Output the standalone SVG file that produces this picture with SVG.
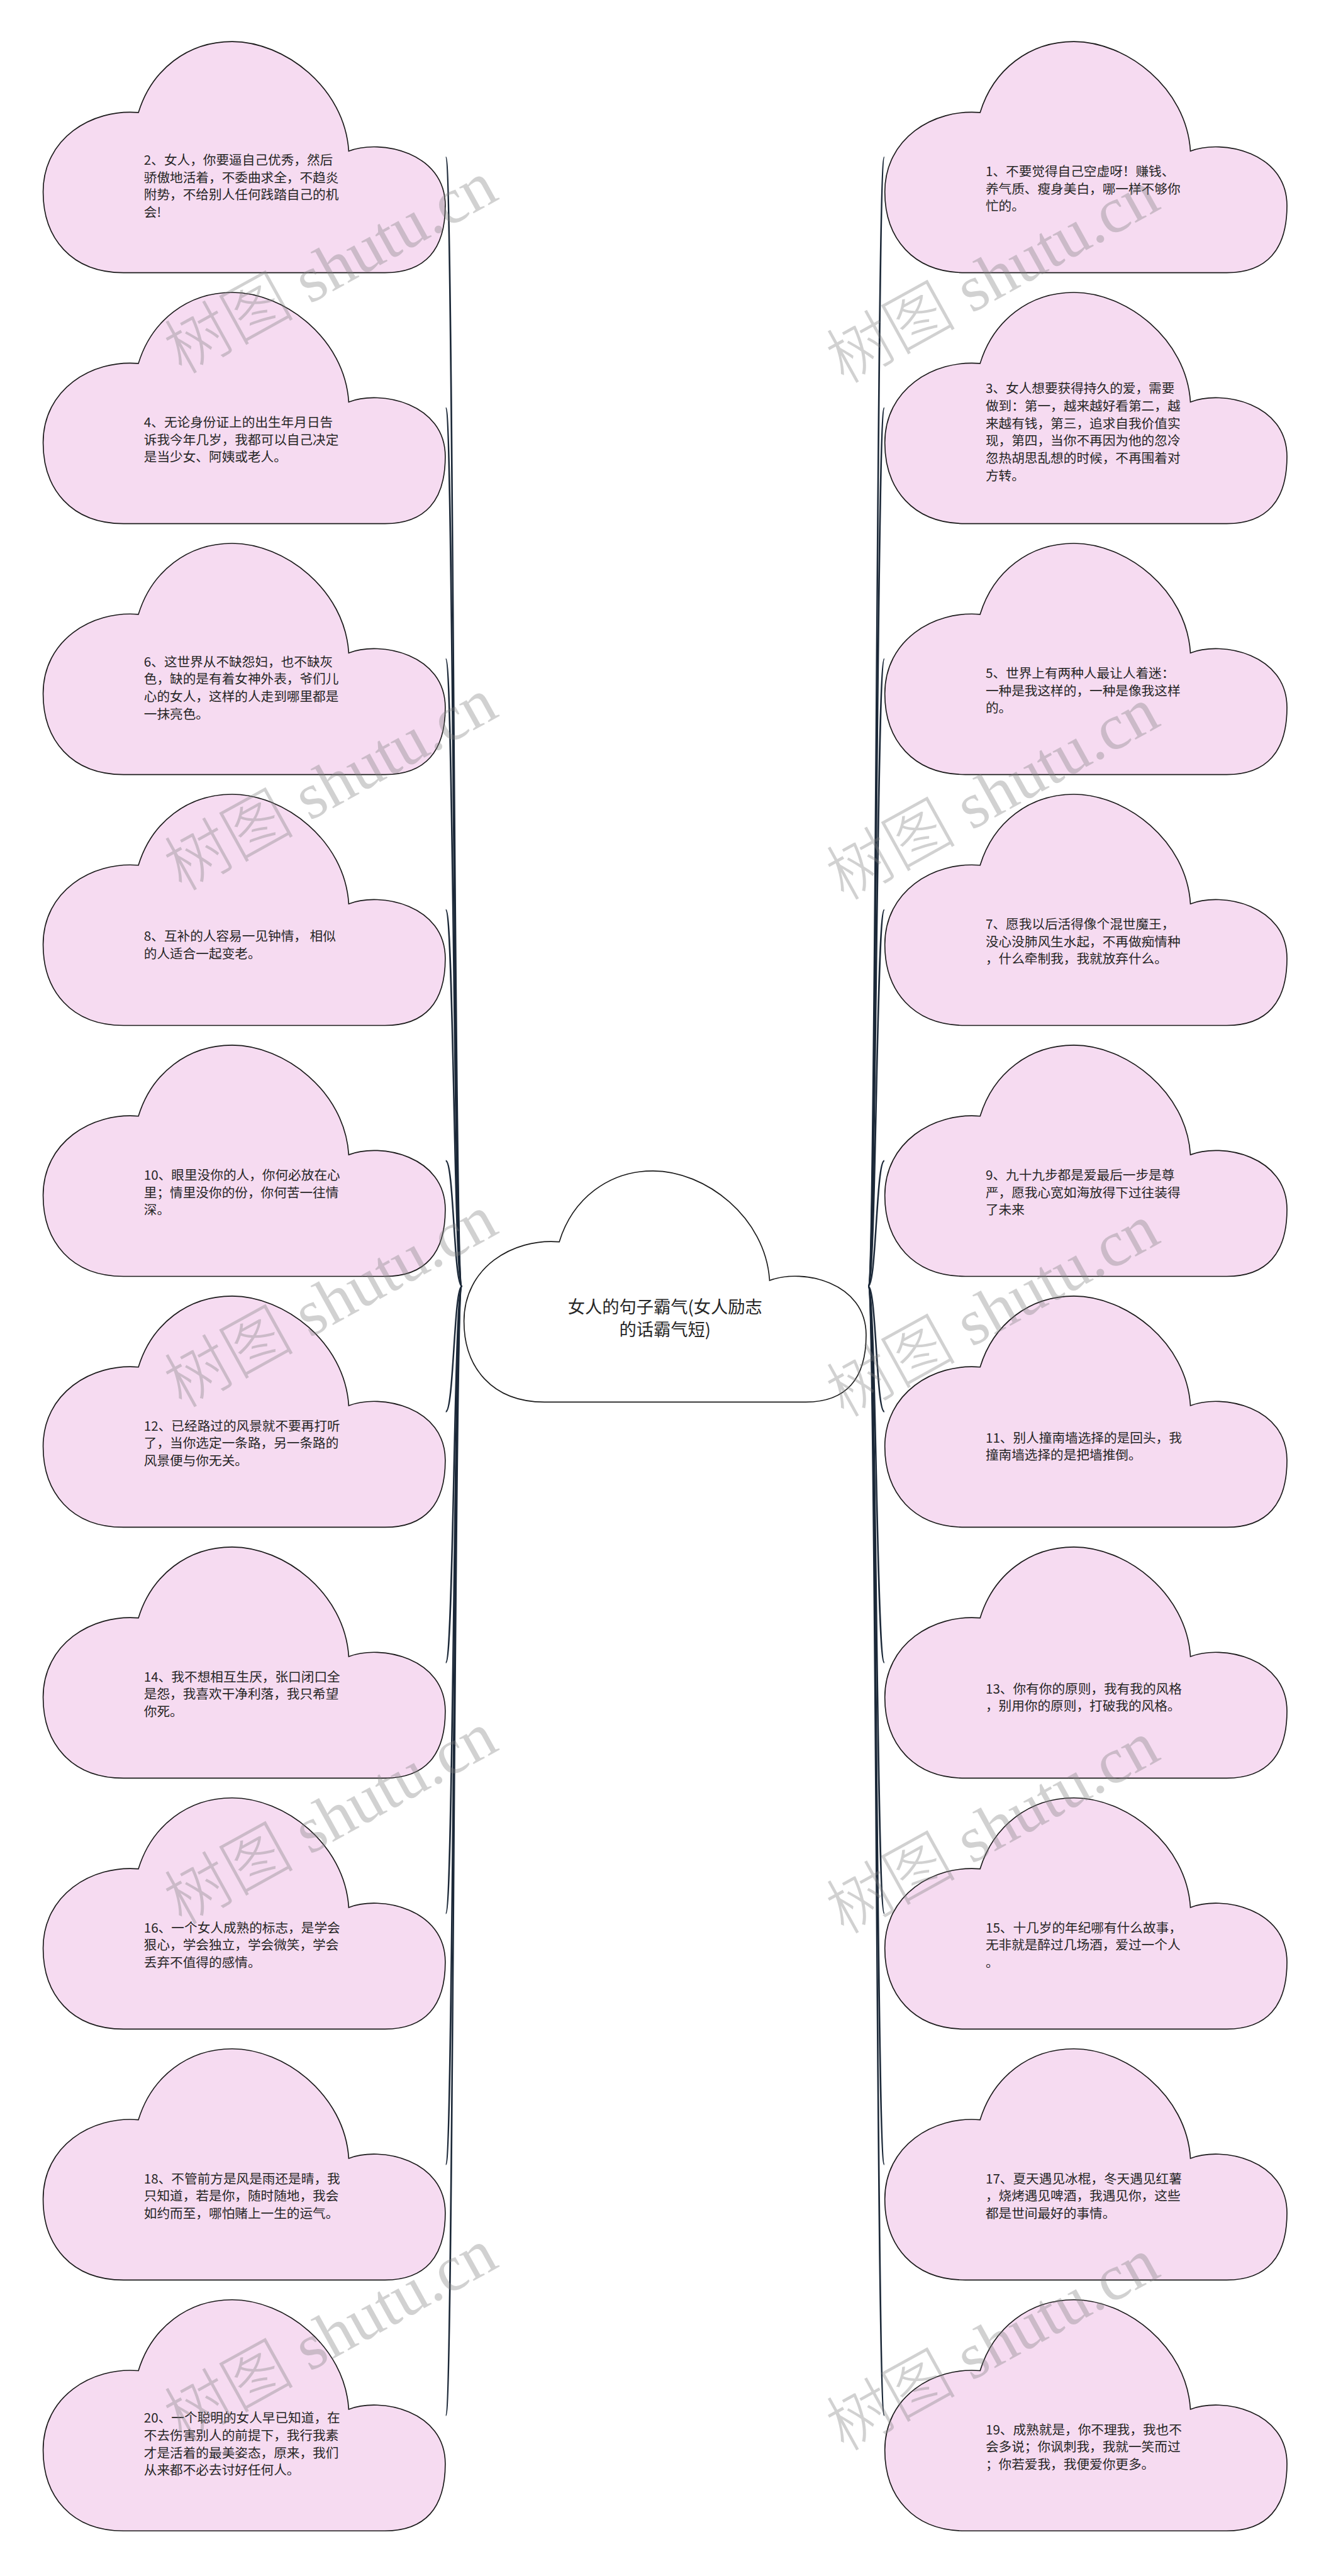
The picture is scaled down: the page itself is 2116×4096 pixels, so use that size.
<svg xmlns="http://www.w3.org/2000/svg" width="2116" height="4096" viewBox="0 0 2116 4096">
<defs>
<style>
.cloud{fill:#f6dbf1;stroke:#1a1a1a;stroke-width:2}
.root{fill:#ffffff;stroke:#1a1a1a;stroke-width:2}
.t{font-family:"Noto Sans CJK SC","Noto Sans",sans-serif;font-size:25px;fill:#262626}
.rt{font-size:33px;text-anchor:middle}
.edge{fill:none;stroke:#1b2838;stroke-width:3}
.wm{font-family:"Liberation Serif","Noto Sans CJK SC",serif;font-size:125px;font-weight:300;fill:#808080;fill-opacity:0.36}
</style>
<path id="cloud" d="M154.8 445 C54.2 445 0 378.3 0 289.3 C0 186.9 92.9 129.1 183.4 136.6 C209 53.4 278.6 0 363.8 0 C464.4 0 580.5 89 588.2 210.9 C650.2 186.9 774 213.6 774 316 C774 400.5 735.3 445 657.9 445 Z"/>
</defs>
<rect width="2116" height="4096" fill="#ffffff"/>
<g transform="scale(0.826)">
<g id="connectors">
<path class="edge" d="M889 2476 C873.5 2476 873.5 302.5 858 302.5"/>
<path class="edge" d="M889 2476 C873.5 2476 873.5 785.5 858 785.5"/>
<path class="edge" d="M889 2476 C873.5 2476 873.5 1268.5 858 1268.5"/>
<path class="edge" d="M889 2476 C873.5 2476 873.5 1751.5 858 1751.5"/>
<path class="edge" d="M889 2476 C873.5 2476 873.5 2234.5 858 2234.5"/>
<path class="edge" d="M889 2476 C873.5 2476 873.5 2717.5 858 2717.5"/>
<path class="edge" d="M889 2476 C873.5 2476 873.5 3200.5 858 3200.5"/>
<path class="edge" d="M889 2476 C873.5 2476 873.5 3683.5 858 3683.5"/>
<path class="edge" d="M889 2476 C873.5 2476 873.5 4166.5 858 4166.5"/>
<path class="edge" d="M889 2476 C873.5 2476 873.5 4649.5 858 4649.5"/>
<path class="edge" d="M1671 2476 C1686.5 2476 1686.5 302.5 1702 302.5"/>
<path class="edge" d="M1671 2476 C1686.5 2476 1686.5 785.5 1702 785.5"/>
<path class="edge" d="M1671 2476 C1686.5 2476 1686.5 1268.5 1702 1268.5"/>
<path class="edge" d="M1671 2476 C1686.5 2476 1686.5 1751.5 1702 1751.5"/>
<path class="edge" d="M1671 2476 C1686.5 2476 1686.5 2234.5 1702 2234.5"/>
<path class="edge" d="M1671 2476 C1686.5 2476 1686.5 2717.5 1702 2717.5"/>
<path class="edge" d="M1671 2476 C1686.5 2476 1686.5 3200.5 1702 3200.5"/>
<path class="edge" d="M1671 2476 C1686.5 2476 1686.5 3683.5 1702 3683.5"/>
<path class="edge" d="M1671 2476 C1686.5 2476 1686.5 4166.5 1702 4166.5"/>
<path class="edge" d="M1671 2476 C1686.5 2476 1686.5 4649.5 1702 4649.5"/>
</g>
<g id="root">
<use href="#cloud" x="893" y="2254" class="root"/>
<text class="t rt" x="1280" y="2528"><tspan x="1280">女人的句子霸气(女人励志</tspan><tspan x="1280" dy="43">的话霸气短)</tspan></text>
</g>
<g id="n2">
<use href="#cloud" x="83" y="80" class="cloud"/>
<text class="t" x="277" y="317"><tspan x="277">2、女人，你要逼自己优秀，然后</tspan><tspan x="277" dy="33.5">骄傲地活着，不委曲求全，不趋炎</tspan><tspan x="277" dy="33.5">附势，不给别人任何践踏自己的机</tspan><tspan x="277" dy="33.5">会!</tspan></text>
</g>
<g id="n4">
<use href="#cloud" x="83" y="563" class="cloud"/>
<text class="t" x="277" y="822"><tspan x="277">4、无论身份证上的出生年月日告</tspan><tspan x="277" dy="33.5">诉我今年几岁，我都可以自己决定</tspan><tspan x="277" dy="33.5">是当少女、阿姨或老人。</tspan></text>
</g>
<g id="n6">
<use href="#cloud" x="83" y="1046" class="cloud"/>
<text class="t" x="277" y="1283"><tspan x="277">6、这世界从不缺怨妇，也不缺灰</tspan><tspan x="277" dy="33.5">色，缺的是有着女神外表，爷们儿</tspan><tspan x="277" dy="33.5">心的女人，这样的人走到哪里都是</tspan><tspan x="277" dy="33.5">一抹亮色。</tspan></text>
</g>
<g id="n8">
<use href="#cloud" x="83" y="1529" class="cloud"/>
<text class="t" x="277" y="1811"><tspan x="277">8、互补的人容易一见钟情， 相似</tspan><tspan x="277" dy="33.5">的人适合一起变老。</tspan></text>
</g>
<g id="n10">
<use href="#cloud" x="83" y="2012" class="cloud"/>
<text class="t" x="277" y="2271"><tspan x="277">10、眼里没你的人，你何必放在心</tspan><tspan x="277" dy="33.5">里；情里没你的份，你何苦一往情</tspan><tspan x="277" dy="33.5">深。</tspan></text>
</g>
<g id="n12">
<use href="#cloud" x="83" y="2495" class="cloud"/>
<text class="t" x="277" y="2754"><tspan x="277">12、已经路过的风景就不要再打听</tspan><tspan x="277" dy="33.5">了，当你选定一条路，另一条路的</tspan><tspan x="277" dy="33.5">风景便与你无关。</tspan></text>
</g>
<g id="n14">
<use href="#cloud" x="83" y="2978" class="cloud"/>
<text class="t" x="277" y="3237"><tspan x="277">14、我不想相互生厌，张口闭口全</tspan><tspan x="277" dy="33.5">是怨，我喜欢干净利落，我只希望</tspan><tspan x="277" dy="33.5">你死。</tspan></text>
</g>
<g id="n16">
<use href="#cloud" x="83" y="3461" class="cloud"/>
<text class="t" x="277" y="3720"><tspan x="277">16、一个女人成熟的标志，是学会</tspan><tspan x="277" dy="33.5">狠心，学会独立，学会微笑，学会</tspan><tspan x="277" dy="33.5">丢弃不值得的感情。</tspan></text>
</g>
<g id="n18">
<use href="#cloud" x="83" y="3944" class="cloud"/>
<text class="t" x="277" y="4203"><tspan x="277">18、不管前方是风是雨还是晴，我</tspan><tspan x="277" dy="33.5">只知道，若是你，随时随地，我会</tspan><tspan x="277" dy="33.5">如约而至，哪怕赌上一生的运气。</tspan></text>
</g>
<g id="n20">
<use href="#cloud" x="83" y="4427" class="cloud"/>
<text class="t" x="277" y="4664"><tspan x="277">20、一个聪明的女人早已知道，在</tspan><tspan x="277" dy="33.5">不去伤害别人的前提下，我行我素</tspan><tspan x="277" dy="33.5">才是活着的最美姿态，原来，我们</tspan><tspan x="277" dy="33.5">从来都不必去讨好任何人。</tspan></text>
</g>
<g id="n1">
<use href="#cloud" x="1703" y="80" class="cloud"/>
<text class="t" x="1897" y="339"><tspan x="1897">1、不要觉得自己空虚呀！赚钱、</tspan><tspan x="1897" dy="33.5">养气质、瘦身美白，哪一样不够你</tspan><tspan x="1897" dy="33.5">忙的。</tspan></text>
</g>
<g id="n3">
<use href="#cloud" x="1703" y="563" class="cloud"/>
<text class="t" x="1897" y="757"><tspan x="1897">3、女人想要获得持久的爱，需要</tspan><tspan x="1897" dy="33.5">做到：第一，越来越好看第二，越</tspan><tspan x="1897" dy="33.5">来越有钱，第三，追求自我价值实</tspan><tspan x="1897" dy="33.5">现，第四，当你不再因为他的忽冷</tspan><tspan x="1897" dy="33.5">忽热胡思乱想的时候，不再围着对</tspan><tspan x="1897" dy="33.5">方转。</tspan></text>
</g>
<g id="n5">
<use href="#cloud" x="1703" y="1046" class="cloud"/>
<text class="t" x="1897" y="1305"><tspan x="1897">5、世界上有两种人最让人着迷：</tspan><tspan x="1897" dy="33.5">一种是我这样的，一种是像我这样</tspan><tspan x="1897" dy="33.5">的。</tspan></text>
</g>
<g id="n7">
<use href="#cloud" x="1703" y="1529" class="cloud"/>
<text class="t" x="1897" y="1788"><tspan x="1897">7、愿我以后活得像个混世魔王，</tspan><tspan x="1897" dy="33.5">没心没肺风生水起，不再做痴情种</tspan><tspan x="1897" dy="33.5">，什么牵制我，我就放弃什么。</tspan></text>
</g>
<g id="n9">
<use href="#cloud" x="1703" y="2012" class="cloud"/>
<text class="t" x="1897" y="2271"><tspan x="1897">9、九十九步都是爱最后一步是尊</tspan><tspan x="1897" dy="33.5">严，愿我心宽如海放得下过往装得</tspan><tspan x="1897" dy="33.5">了未来</tspan></text>
</g>
<g id="n11">
<use href="#cloud" x="1703" y="2495" class="cloud"/>
<text class="t" x="1897" y="2777"><tspan x="1897">11、别人撞南墙选择的是回头，我</tspan><tspan x="1897" dy="33.5">撞南墙选择的是把墙推倒。</tspan></text>
</g>
<g id="n13">
<use href="#cloud" x="1703" y="2978" class="cloud"/>
<text class="t" x="1897" y="3260"><tspan x="1897">13、你有你的原则，我有我的风格</tspan><tspan x="1897" dy="33.5">，别用你的原则，打破我的风格。</tspan></text>
</g>
<g id="n15">
<use href="#cloud" x="1703" y="3461" class="cloud"/>
<text class="t" x="1897" y="3720"><tspan x="1897">15、十几岁的年纪哪有什么故事，</tspan><tspan x="1897" dy="33.5">无非就是醉过几场酒，爱过一个人</tspan><tspan x="1897" dy="33.5">。</tspan></text>
</g>
<g id="n17">
<use href="#cloud" x="1703" y="3944" class="cloud"/>
<text class="t" x="1897" y="4203"><tspan x="1897">17、夏天遇见冰棍，冬天遇见红薯</tspan><tspan x="1897" dy="33.5">，烧烤遇见啤酒，我遇见你，这些</tspan><tspan x="1897" dy="33.5">都是世间最好的事情。</tspan></text>
</g>
<g id="n19">
<use href="#cloud" x="1703" y="4427" class="cloud"/>
<text class="t" x="1897" y="4686"><tspan x="1897">19、成熟就是，你不理我，我也不</tspan><tspan x="1897" dy="33.5">会多说；你讽刺我，我就一笑而过</tspan><tspan x="1897" dy="33.5">；你若爱我，我便爱你更多。</tspan></text>
</g>
<g id="watermarks">
<text class="wm" transform="translate(350 722) rotate(-29)">树图 shutu.cn</text>
<text class="wm" transform="translate(350 1717) rotate(-29)">树图 shutu.cn</text>
<text class="wm" transform="translate(350 2712) rotate(-29)">树图 shutu.cn</text>
<text class="wm" transform="translate(350 3707) rotate(-29)">树图 shutu.cn</text>
<text class="wm" transform="translate(350 4702) rotate(-29)">树图 shutu.cn</text>
<text class="wm" transform="translate(1624 740) rotate(-29)">树图 shutu.cn</text>
<text class="wm" transform="translate(1624 1735) rotate(-29)">树图 shutu.cn</text>
<text class="wm" transform="translate(1624 2730) rotate(-29)">树图 shutu.cn</text>
<text class="wm" transform="translate(1624 3725) rotate(-29)">树图 shutu.cn</text>
<text class="wm" transform="translate(1624 4720) rotate(-29)">树图 shutu.cn</text>
</g>
</g>
</svg>
